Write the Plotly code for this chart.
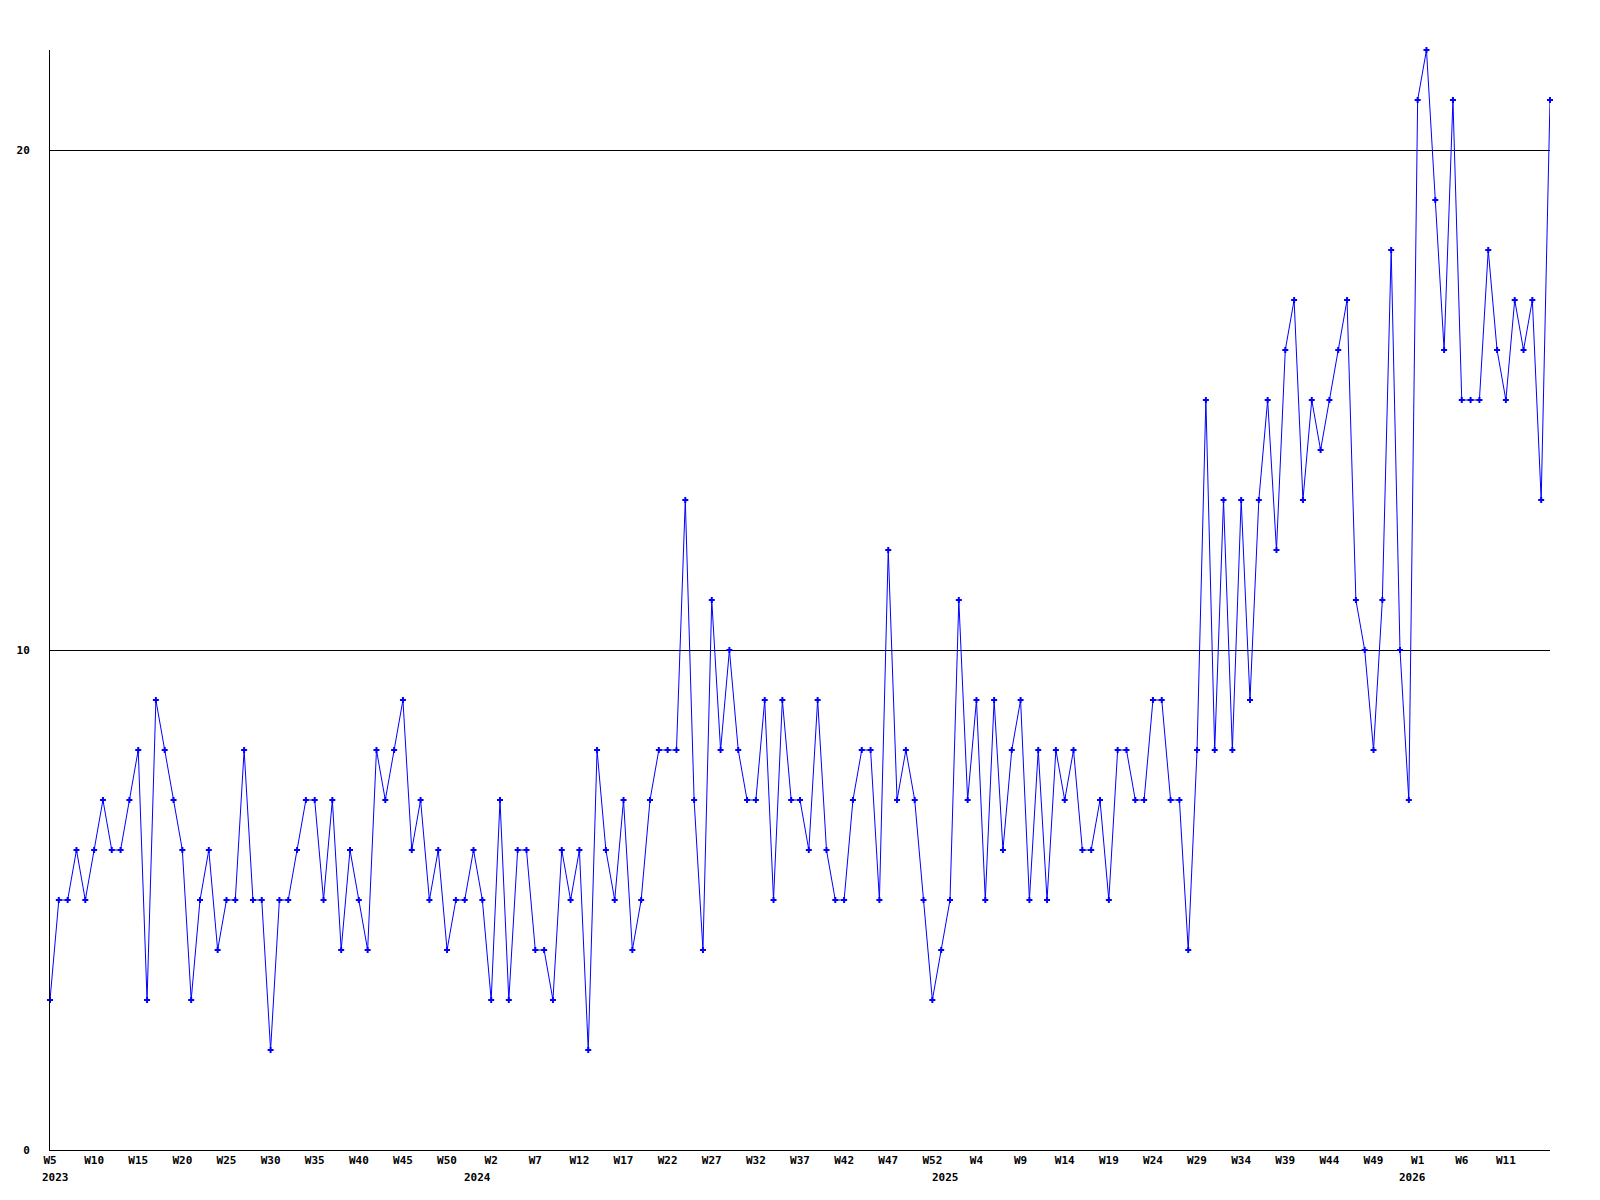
import plotly.graph_objects as go

# Weekly values, by year (week numbers start at W1; 2023 starts at W5)
years = [2023, 2024, 2025, 2026]
first_week = [5, 1, 1, 1]
values_2023 = [3, 5, 5, 6, 5, 6, 7, 6, 6, 7, 8, 3, 9, 8, 7, 6, 3, 5, 6, 4, 5, 5, 8, 5, 5, 2, 5, 5, 6, 7, 7, 5,
               7, 4, 6, 5, 4, 8, 7, 8, 9, 6, 7, 5, 6, 4, 5, 5, 6]
values_2024 = [5, 3, 7, 3, 6, 6, 4, 4, 3, 6, 5, 6, 2, 8, 6, 5,
               7, 4, 5, 7, 8, 8, 8, 13, 7, 4, 11, 8, 10, 8, 7, 7, 9, 5, 9, 7, 7, 6, 9, 6, 5, 5, 7, 8, 8, 5, 12, 7, 8,
               7, 5, 3, 4]
values_2025 = [5, 11, 7, 9, 5, 9, 6, 8, 9, 5, 8, 5, 8, 7, 8, 6, 6, 7, 5, 8, 8, 7, 7, 9, 9, 7, 7, 4, 8,
               15, 8, 13, 8, 13, 9, 13, 15, 12, 16, 17, 13, 15, 14, 15, 16, 17, 11, 10, 8, 11,
               18, 10, 7]
values_2026 = [21, 22, 19, 16, 21, 15, 15, 15, 18, 16, 15, 17, 16, 17, 13, 21]

series = [values_2023, values_2024, values_2025, values_2026]
week_labels = []
week_year = []
values = []
for yr, fw, vals in zip(years, first_week, series):
    for i, v in enumerate(vals):
        week_labels.append(f"W{fw + i}")
        week_year.append(yr)
        values.append(v)

x_idx = list(range(len(values)))
tick_step = 5
# last label is omitted (it would fall on the right edge)
tickvals = [i for i in x_idx[::tick_step] if i <= len(values) - 1 - tick_step]
ticktext = [week_labels[i] for i in tickvals]

# year label positions: first point of each year
year_pos = [week_year.index(yr) for yr in years]

y_ticks = [0, 10, 20]

fig = go.Figure()
fig.add_trace(go.Scatter(
    x=x_idx, y=values, mode="lines+markers",
    line=dict(color="#0000ff", width=1),
    marker=dict(symbol="cross", size=5, color="#0000ff", line=dict(width=0)),
    cliponaxis=False, showlegend=False,
    text=[f"{w} {y}" for w, y in zip(week_labels, week_year)],
))

font = dict(family="DejaVu Sans Mono", size=11, color="black", weight="bold")

for yr, pos in zip(years, year_pos):
    if pos == 0:
        fig.add_annotation(x=pos, y=0, xref="x", yref="paper", text=str(yr),
                           showarrow=False, xanchor="left", yanchor="middle",
                           xshift=-10, yshift=-27, font=font)
    else:
        fig.add_annotation(x=pos, y=0, xref="x", yref="paper", text=str(yr),
                           showarrow=False, xanchor="center", yanchor="middle",
                           xshift=-5, yshift=-27, font=font)

fig.update_layout(
    width=1584, height=1184,
    margin=dict(l=42, r=42, t=42, b=42, autoexpand=False),
    paper_bgcolor="white", plot_bgcolor="white",
    font=font,
    xaxis=dict(range=[0, len(values) - 1], tickmode="array", tickvals=tickvals, ticktext=ticktext,
               showgrid=False, zeroline=False, showline=True, linecolor="black", linewidth=1,
               ticks="", tickfont=font, tickangle=0, automargin=False),
    yaxis=dict(range=[0, 22], tickmode="array", tickvals=y_ticks, ticktext=[str(v) for v in y_ticks],
               showgrid=True, gridcolor="black", gridwidth=1, zeroline=False,
               showline=True, linecolor="black", linewidth=1, ticks="", tickfont=font,
               ticklabelstandoff=17, automargin=False),
)

fig.write_html("out.html")
